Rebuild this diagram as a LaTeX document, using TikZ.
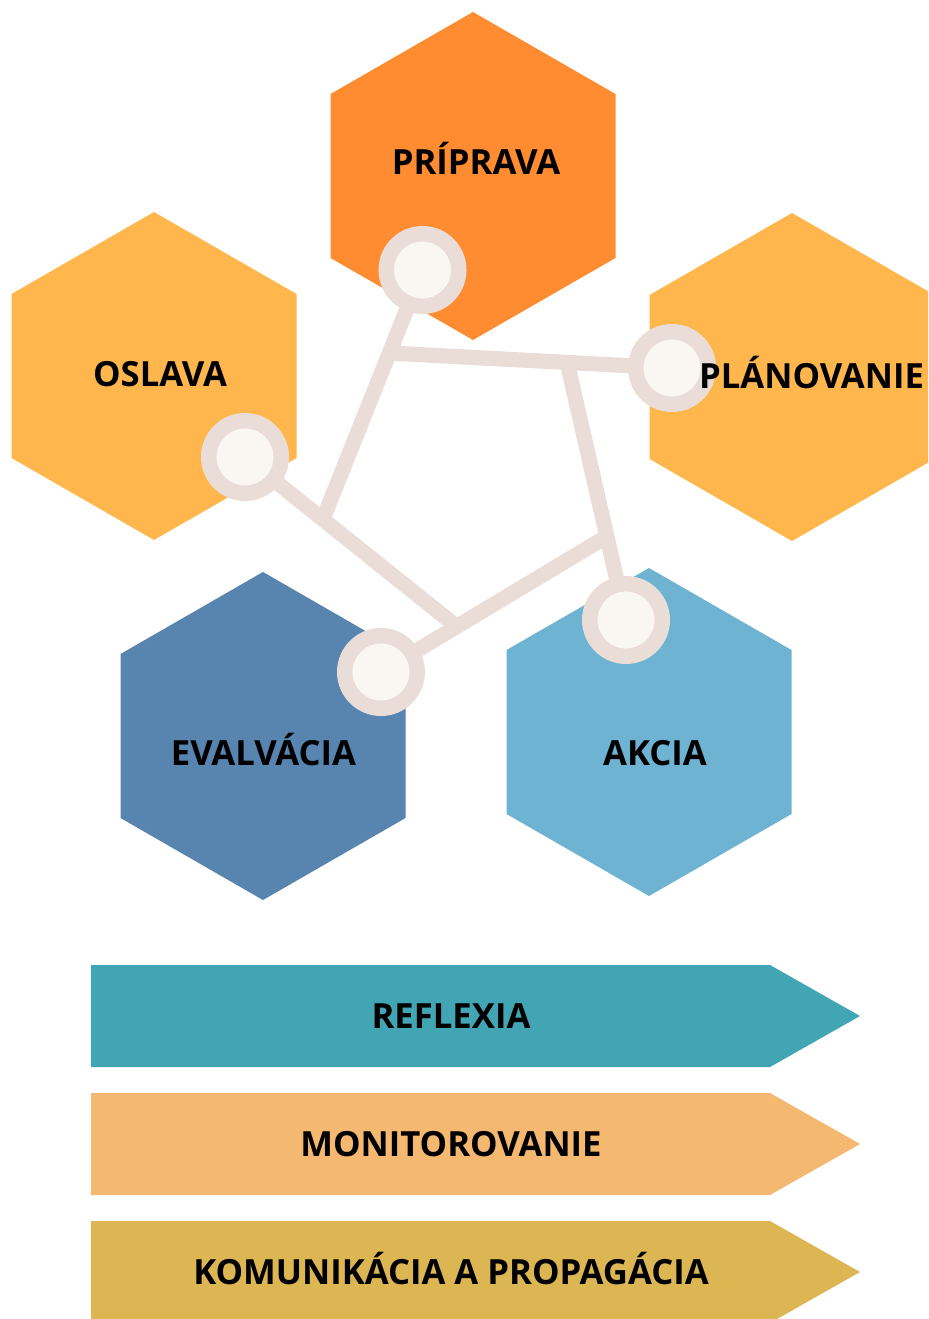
\documentclass[tikz,border=0pt]{standalone}
\usepackage{fontspec}
\setmainfont{Open Sans}
\definecolor{cPrip}{HTML}{FF8C30}
\definecolor{cOsl}{HTML}{FFB74D}
\definecolor{cEval}{HTML}{5785B0}
\definecolor{cAkc}{HTML}{6EB3D1}
\definecolor{cRef}{HTML}{42A5B3}
\definecolor{cMon}{HTML}{F4B870}
\definecolor{cKom}{HTML}{DDB654}
\definecolor{cLine}{HTML}{EADDD8}
\definecolor{cDot}{HTML}{FAF7F2}
\tikzset{
  link/.style={draw=cLine, line width=11.4pt},
  dot/.style={circle, fill=cDot, draw=cLine, line width=11.6pt, minimum size=54.4pt, inner sep=0pt, outer sep=0pt},
  lab/.style={font=\bfseries\fontsize{26}{30}\selectfont, text=black, anchor=base, inner sep=0pt}
}
\newcommand{\hexat}[3]{% fill color, cx, cy
  \fill[#1] (#2,#3) +(0,-164) -- +(142.5,-82) -- +(142.5,82) -- +(0,164) -- +(-142.5,82) -- +(-142.5,-82) -- cycle;}
\begin{document}
\begin{tikzpicture}[x=0.75pt,y=-0.75pt]
\useasboundingbox (0,0) rectangle (928,1319);
\clip (0,0) rectangle (928,1319);
% hexagons
\hexat{cPrip}{473}{176}
\hexat{cOsl}{154}{376}
\hexat{cOsl}{792}{377}
\hexat{cEval}{263}{736}
\hexat{cAkc}{649}{732}
% coordinates
\coordinate (P) at (422.5,270);
\coordinate (PL) at (672,368);
\coordinate (O) at (245,457);
\coordinate (E) at (381,672);
\coordinate (A) at (626,620);
\coordinate (J1) at (389,353);
\coordinate (J2) at (567,362);
\coordinate (J3) at (606,537);
\coordinate (J4) at (323,519);
\coordinate (J5) at (456,626);
% links
\draw[link] (P) -- (J4);
\draw[link] (J1) -- (PL);
\draw[link] (J2) -- (A);
\draw[link] (E) -- (J3);
\draw[link] (O) -- (J5);
% dots
\node[dot] (dP) at (P) {};
\node[dot] (dPL) at (PL) {};
\node[dot] (dO) at (O) {};
\node[dot] (dE) at (E) {};
\node[dot] (dA) at (A) {};
% hex labels
\node[lab] (tP) at (476,175) {PRÍPRAVA};
\node[lab] (tO) at (160,386) {OSLAVA};
\node[lab] (tPL) at (811.5,388) {PLÁNOVANIE};
\node[lab] (tE) at (263.5,765) {EVALVÁCIA};
\node[lab] (tA) at (655,765) {AKCIA};
% bands
\fill[cRef] (91,965) -- (770,965) -- (860,1016) -- (770,1067) -- (91,1067) -- cycle;
\fill[cMon] (91,1093) -- (770,1093) -- (860,1144) -- (770,1195) -- (91,1195) -- cycle;
\fill[cKom] (91,1221) -- (770,1221) -- (860,1272) -- (770,1323) -- (91,1323) -- cycle;
\node[lab] (tR) at (451,1028.5) {REFLEXIA};
\node[lab] (tM) at (451,1156.5) {MONITOROVANIE};
\node[lab] (tK) at (451,1284.5) {KOMUNIKÁCIA A PROPAGÁCIA};
\end{tikzpicture}
\end{document}
